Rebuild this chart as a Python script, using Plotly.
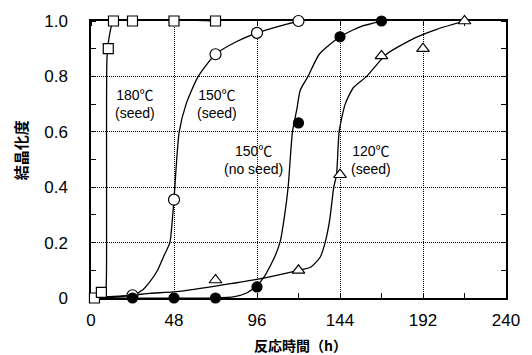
import plotly.graph_objects as go

# Measured points (reaction time in h, crystallinity)
t_180_seed = [2, 6, 10, 13, 24, 48, 72]
y_180_seed = [0.0, 0.02, 0.90, 1.0, 1.0, 1.0, 1.0]

t_150_seed = [24, 48, 72, 96, 120]
y_150_seed = [0.01, 0.355, 0.88, 0.957, 1.0]

t_150_noseed = [24, 48, 72, 96, 120, 144, 168]
y_150_noseed = [0.0, 0.0, 0.0, 0.04, 0.632, 0.943, 1.0]

t_120_seed = [72, 120, 144, 168, 192, 216]
y_120_seed = [0.065, 0.10, 0.445, 0.874, 0.90, 1.0]

# Hand-fitted trend curves (vertices)
ct_180 = [0, 5, 8, 8.8, 9.0, 9.2, 10, 11, 12, 13, 72]
cy_180 = [0, 0.005, 0.015, 0.05, 0.3, 0.86, 0.92, 0.96, 0.985, 1.0, 1.0]

ct_150s = [0, 24, 30, 34, 38.5, 42, 45.6, 47, 48, 49, 51, 55, 62, 72, 84, 96, 108, 120]
cy_150s = [0, 0.01, 0.03, 0.058, 0.10, 0.15, 0.20, 0.28, 0.355, 0.45, 0.60, 0.70, 0.80, 0.88, 0.925, 0.957, 0.98, 1.0]

ct_150n = [0, 72, 83, 90, 96, 100, 104, 107, 109.5, 112, 114, 116.5, 119, 121, 125.5, 132, 144, 156, 168]
cy_150n = [0, 0, 0.005, 0.018, 0.045, 0.075, 0.12, 0.16, 0.206, 0.30, 0.40, 0.60, 0.68, 0.75, 0.80, 0.88, 0.943, 0.98, 1.0]

ct_120 = [0, 24, 34, 48, 72, 95, 120, 127, 132.5, 135.4, 138, 140.4, 142, 143.5, 147, 151.8, 159.4, 170.8, 187.7, 200, 216]
cy_120 = [0, 0.01, 0.017, 0.022, 0.043, 0.066, 0.10, 0.111, 0.147, 0.20, 0.28, 0.40, 0.445, 0.60, 0.70, 0.76, 0.80, 0.88, 0.94, 0.97, 1.0]

x_ticks = [0, 48, 96, 144, 192, 240]
x_ticktext = ["0", "48", "96", "144", "192", "240"]
y_ticks = [0, 0.2, 0.4, 0.6, 0.8, 1.0]
y_ticktext = ["0", "0.2", "0.4", "0.6", "0.8", "1.0"]

curve_labels = ["180℃<br>(seed)", "150℃<br>(seed)", "150℃<br>(no seed)", "120℃<br>(seed)"]
label_x = [25.3, 72.9, 94.1, 161.9]
label_y = [0.70, 0.70, 0.50, 0.50]

fig = go.Figure()

line_style = dict(color="black", width=1.3, shape="spline", smoothing=0.6)
for ct, cy in [(ct_180, cy_180), (ct_150s, cy_150s), (ct_150n, cy_150n), (ct_120, cy_120)]:
    fig.add_trace(go.Scatter(x=ct, y=cy, mode="lines", line=line_style,
                             hoverinfo="skip", showlegend=False, cliponaxis=False))

mk_line = dict(color="black", width=1.2)
fig.add_trace(go.Scatter(x=t_180_seed, y=y_180_seed, mode="markers", cliponaxis=False,
                         marker=dict(symbol="square", size=10, color="white", line=mk_line),
                         showlegend=False))
fig.add_trace(go.Scatter(x=t_150_seed, y=y_150_seed, mode="markers", cliponaxis=False,
                         marker=dict(symbol="circle", size=11, color="white", line=mk_line),
                         showlegend=False))
fig.add_trace(go.Scatter(x=t_150_noseed, y=y_150_noseed, mode="markers", cliponaxis=False,
                         marker=dict(symbol="circle", size=10, color="black", line=mk_line),
                         showlegend=False))
fig.add_trace(go.Scatter(x=t_120_seed, y=y_120_seed, mode="markers", cliponaxis=False,
                         marker=dict(symbol="triangle-up", size=11, color="white", line=mk_line),
                         showlegend=False))

for txt, lx, ly in zip(curve_labels, label_x, label_y):
    fig.add_annotation(x=lx, y=ly, xref="x", yref="y", text=txt, showarrow=False,
                       font=dict(family="Liberation Sans, Noto Sans CJK JP", size=14, color="black"),
                       align="center")

# Axis titles
fig.add_annotation(x=-0.170, y=0.535, xref="paper", yref="paper", text="結晶化度", showarrow=False,
                   xanchor="center", yanchor="middle", textangle=-90,
                   font=dict(family="Noto Sans CJK JP", size=15, color="black", weight="bold"))
fig.add_annotation(x=0.505, y=-0.170, xref="paper", yref="paper", text="反応時間（h）", showarrow=False,
                   xanchor="center", yanchor="middle",
                   font=dict(family="Noto Sans CJK JP", size=14, color="black", weight="bold"))

axis_common = dict(
    showline=True, linecolor="black", linewidth=1.5, mirror="allticks",
    showgrid=True, gridcolor="black", gridwidth=1, griddash="1px,1px",
    zeroline=False, ticks="", layer="below traces",
    tickfont=dict(family="Liberation Sans", size=17, color="black"),
)

fig.update_xaxes(range=[0, 240], tickvals=x_ticks, ticktext=x_ticktext,
                 ticklabelstandoff=6,
                 minor=dict(dtick=24, tick0=0, ticks="inside", ticklen=5, tickcolor="black",
                            tickwidth=1, showgrid=False),
                 **axis_common)
fig.update_yaxes(range=[0, 1.0], tickvals=y_ticks, ticktext=y_ticktext,
                 ticklabelstandoff=18,
                 minor=dict(dtick=0.1, tick0=0, ticks="inside", ticklen=5, tickcolor="black",
                            tickwidth=1, showgrid=False),
                 **axis_common)

fig.update_layout(
    width=532, height=355,
    margin=dict(l=91, r=23, t=16, b=57),
    plot_bgcolor="white", paper_bgcolor="white",
    showlegend=False,
)

fig.write_html("out.html")
